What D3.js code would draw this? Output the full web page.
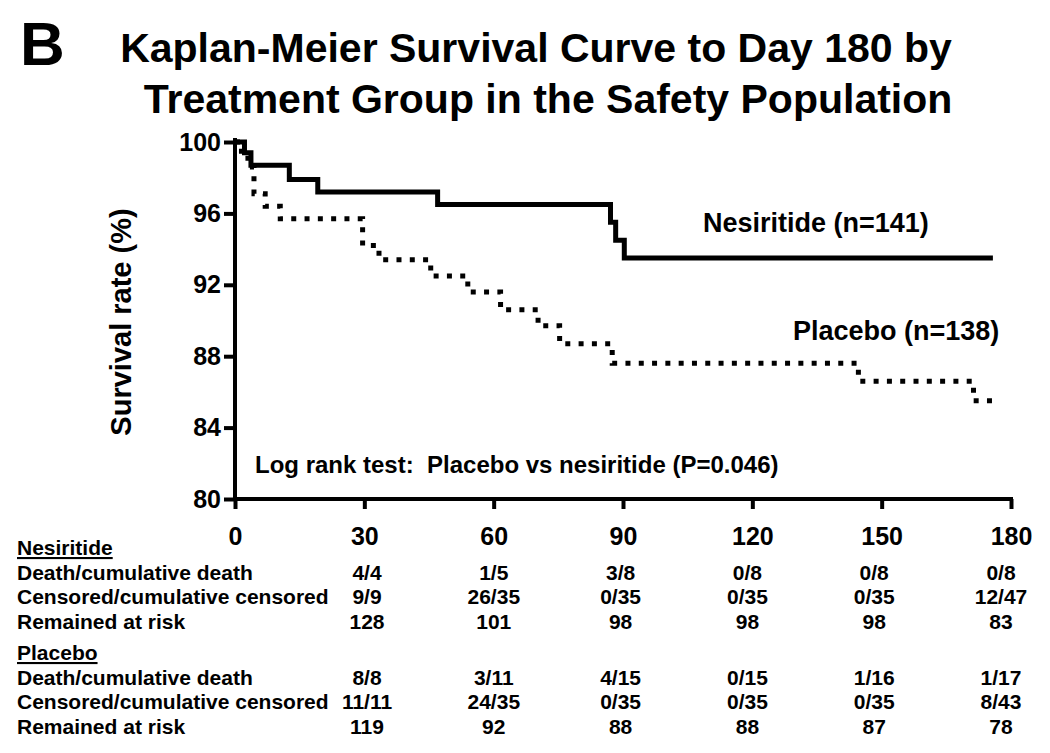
<!DOCTYPE html>
<html>
<head>
<meta charset="utf-8">
<script src="https://cdn.jsdelivr.net/npm/d3@7"></script>
<style>
  html, body { margin: 0; padding: 0; background: #fff; }
  svg { display: block; }
  text { font-family: "Liberation Sans", Arial, Helvetica, sans-serif; font-weight: bold; fill: #000; }
</style>
</head>
<body>
<svg id="chart" width="1050" height="753"></svg>
<script>
// ---- Data ----
const xTicks = [0, 30, 60, 90, 120, 150, 180];
const yTicks = [80, 84, 88, 92, 96, 100];

// Kaplan-Meier step points: [day, survival %]
const nesiritideSteps = [[0,100],[2.2,99.4],[3.7,98.7],[12.6,97.9],[19.2,97.2],[47,96.5],[87.1,95.5],[88.3,94.5],[90.3,93.5],[175.8,93.5]];
const placeboSteps = [[0,100],[1.5,99.3],[3,98.6],[4.4,97.1],[7,96.4],[10.5,95.7],[29.6,94.2],[33.4,93.4],[45.4,92.5],[54,91.6],[61.6,90.6],[70.3,89.7],[75.3,88.7],[87.5,87.6],[144.6,86.6],[171.3,85.5],[176.3,85.5]];

const tableDays = [30, 60, 90, 120, 150, 180];
const nesDeath    = ["4/4","1/5","3/8","0/8","0/8","0/8"];
const nesCensored = ["9/9","26/35","0/35","0/35","0/35","12/47"];
const nesAtRisk   = ["128","101","98","98","98","83"];
const plaDeath    = ["8/8","3/11","4/15","0/15","1/16","1/17"];
const plaCensored = ["11/11","24/35","0/35","0/35","0/35","8/43"];
const plaAtRisk   = ["119","92","88","88","87","78"];

const rowLabels = ["Death/cumulative death","Censored/cumulative censored","Remained at risk"];

// ---- Layout ----
const svg = d3.select("#chart");
const x = d3.scaleLinear().domain([0, 180]).range([235, 1011]);
const y = d3.scaleLinear().domain([80, 100]).range([499, 142]);

// Title
svg.append("text").attr("x", 20).attr("y", 65).style("font-size", "62px").text("B");
svg.append("text").attr("x", 536).attr("y", 62).attr("text-anchor", "middle").style("font-size", "41px")
  .text("Kaplan-Meier Survival Curve to Day 180 by");
svg.append("text").attr("x", 548).attr("y", 113).attr("text-anchor", "middle").style("font-size", "41px")
  .text("Treatment Group in the Safety Population");

// Y label
svg.append("text").attr("transform", "translate(131,322) rotate(-90)").attr("text-anchor", "middle")
  .style("font-size", "29px").text("Survival rate (%)");

// Axes
const yAxis = d3.axisLeft(y).tickValues(yTicks).tickSize(11).tickSizeOuter(0).tickPadding(3);
const gy = svg.append("g").attr("transform", `translate(${x(0)},0)`).call(yAxis);
const xAxis = d3.axisBottom(x).tickValues(xTicks).tickSize(10).tickSizeOuter(0).tickPadding(18);
const gx = svg.append("g").attr("transform", `translate(0,${y(80)})`).call(xAxis);

[gy, gx].forEach(g => {
  g.select(".domain").attr("stroke", "#000").attr("stroke-width", 4);
  g.selectAll(".tick line").attr("stroke", "#000").attr("stroke-width", 4);
  g.selectAll(".tick text").style("font-size", "25px").attr("fill", "#000")
    .style("font-family", '"Liberation Sans", Arial, sans-serif').style("font-weight", "bold");
});
gy.select(".domain").attr("d", `M0,${y(100) - 4}V${y(80)}`);
gx.select(".domain").attr("d", `M${x(0) - 2},0H${x(180) + 2}`);

// Curves
const line = d3.line().x(d => x(d[0])).y(d => y(d[1])).curve(d3.curveStepAfter);
svg.append("path").datum(placeboSteps).attr("d", line)
  .attr("fill", "none").attr("stroke", "#000").attr("stroke-width", 5)
  .attr("stroke-dasharray", "5,8.3");
svg.append("path").datum(nesiritideSteps).attr("d", line)
  .attr("fill", "none").attr("stroke", "#000").attr("stroke-width", 5)
  .attr("stroke-linejoin", "miter");

// Curve labels
svg.append("text").attr("x", 703).attr("y", 232).style("font-size", "27px").text("Nesiritide (n=141)");
svg.append("text").attr("x", 793).attr("y", 340).style("font-size", "27px").text("Placebo (n=138)");
svg.append("text").attr("x", 255).attr("y", 473).style("font-size", "24px").style("white-space", "pre")
  .text("Log rank test:  Placebo vs nesiritide (P=0.046)");

// Table
const col = d3.scaleLinear().domain([30, 180]).range([367, 1001]);
function group(title, titleY, rows) {
  svg.append("text").attr("x", 17).attr("y", titleY).style("font-size", "21px")
    .attr("text-decoration", "underline").text(title);
  rows.forEach((vals, i) => {
    const ry = titleY + 24.5 * (i + 1);
    svg.append("text").attr("x", 17).attr("y", ry).style("font-size", "21px").text(rowLabels[i]);
    svg.selectAll(null).data(vals).enter().append("text")
      .attr("x", (d, j) => col(tableDays[j])).attr("y", ry)
      .attr("text-anchor", "middle").style("font-size", "21px").text(d => d);
  });
}
group("Nesiritide", 555, [nesDeath, nesCensored, nesAtRisk]);
group("Placebo", 660, [plaDeath, plaCensored, plaAtRisk]);
</script>
</body>
</html>
